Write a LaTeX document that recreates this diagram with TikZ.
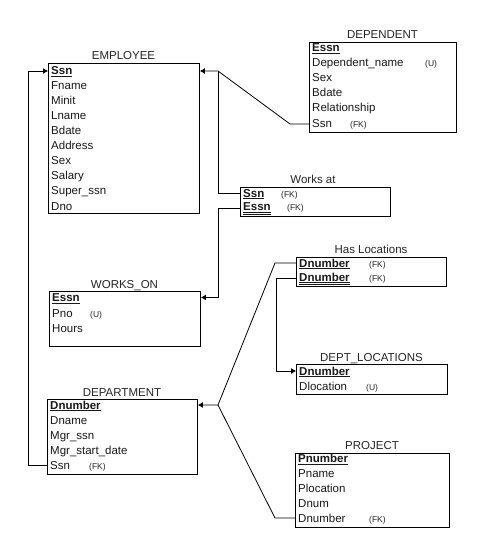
\documentclass[tikz,border=0pt]{standalone}
\usepackage{fontspec}
\setmainfont{Liberation Sans}
\usetikzlibrary{arrows.meta}
\newcommand{\pk}[1]{\underline{\textbf{#1}}}
\newcommand{\dpk}[1]{\underline{\underline{\textbf{#1}}}}
\begin{document}
\begin{tikzpicture}[x=1pt,y=-1pt,
  box/.style={draw=black, line width=0.9pt, anchor=north west, inner sep=0pt},
  row/.style={anchor=base west, inner sep=0pt, font=\fontsize{11.5}{12}\selectfont, text=black!90},
  ttl/.style={anchor=base, inner sep=0pt, font=\fontsize{11.5}{12}\selectfont, text=black!85},
  small/.style={anchor=base west, inner sep=0pt, font=\fontsize{8.5}{9}\selectfont, text=black!85},
  conn/.style={draw=black, line width=0.8pt},
  arr/.style={conn, -{Latex[length=5pt,width=6pt]}}]
\useasboundingbox (0,0) rectangle (485,553);
\fill[white] (0,0) rectangle (485,553);

% EMPLOYEE
\node[box, minimum width=151pt, minimum height=150pt] (emp) at (48,63) {};
\node[ttl] (empT) at (123.5,60) {EMPLOYEE};
\node[row] (eSsn) at (51,75) {\pk{Ssn}};
\node[row] (eF) at (51,90) {Fname};
\node[row] (eM) at (51,105) {Minit};
\node[row] (eL) at (51,120) {Lname};
\node[row] (eB) at (51,135) {Bdate};
\node[row] (eA) at (51,150) {Address};
\node[row] (eS) at (51,165) {Sex};
\node[row] (eSa) at (51,180) {Salary};
\node[row] (eSu) at (51,195) {Super\_ssn};
\node[row] (eD) at (51,210) {Dno};

% DEPENDENT
\node[box, minimum width=147pt, minimum height=90pt] (dep) at (309,42) {};
\node[ttl] (depT) at (382.5,39) {DEPENDENT};
\node[row] (dE) at (312,52) {\pk{Essn}};
\node[row] (dN) at (312,67) {Dependent\_name};
\node[small] (dNu) at (425,67) {(U)};
\node[row] (dS) at (312,82) {Sex};
\node[row] (dB) at (312,97) {Bdate};
\node[row] (dR) at (312,112) {Relationship};
\node[row] (dSsn) at (312,128) {Ssn};
\node[small] (dSf) at (350,128) {(FK)};

% Works at
\node[box, minimum width=150pt, minimum height=29pt] (wa) at (240,187) {};
\node[ttl] (waT) at (313,183) {Works at};
\node[row] (wSsn) at (243,197) {\pk{Ssn}};
\node[small] (wSf) at (281,197) {(FK)};
\node[row] (wE) at (243,211) {\dpk{Essn}};
\node[small] (wEf) at (287,211) {(FK)};

% WORKS_ON
\node[box, minimum width=151pt, minimum height=55pt] (wo) at (49,291) {};
\node[ttl] (woT) at (124.5,288) {WORKS\_ON};
\node[row] (oE) at (52,301.5) {\pk{Essn}};
\node[row] (oP) at (52,317) {Pno};
\node[small] (oPu) at (90,317) {(U)};
\node[row] (oH) at (52,332) {Hours};

% DEPARTMENT
\node[box, minimum width=150pt, minimum height=75pt] (dpt) at (47,399) {};
\node[ttl] (dptT) at (122,396) {DEPARTMENT};
\node[row] (pD) at (50,409) {\pk{Dnumber}};
\node[row] (pN) at (50,424) {Dname};
\node[row] (pM) at (50,439) {Mgr\_ssn};
\node[row] (pMs) at (50,454) {Mgr\_start\_date};
\node[row] (pSsn) at (50,469) {Ssn};
\node[small] (pSf) at (89,469) {(FK)};

% Has Locations
\node[box, minimum width=150pt, minimum height=29pt] (hl) at (296,257) {};
\node[ttl] (hlT) at (371,253) {Has Locations};
\node[row] (h1) at (299,267) {\pk{Dnumber}};
\node[small] (h1f) at (369,267) {(FK)};
\node[row] (h2) at (299,281) {\dpk{Dnumber}};
\node[small] (h2f) at (369,281) {(FK)};

% DEPT_LOCATIONS
\node[box, minimum width=151pt, minimum height=30pt] (dl) at (296,364) {};
\node[ttl] (dlT) at (371.5,361) {DEPT\_LOCATIONS};
\node[row] (lD) at (299,375) {\pk{Dnumber}};
\node[row] (lL) at (299,390) {Dlocation};
\node[small] (lLu) at (366,390) {(U)};

% PROJECT
\node[box, minimum width=154pt, minimum height=74pt] (prj) at (295,453) {};
\node[ttl] (prjT) at (372,449) {PROJECT};
\node[row] (rP) at (298,462.5) {\pk{Pnumber}};
\node[row] (rN) at (298,477) {Pname};
\node[row] (rL) at (298,492) {Plocation};
\node[row] (rD) at (298,507) {Dnum};
\node[row] (rDn) at (298,522) {Dnumber};
\node[small] (rDf) at (369,522) {(FK)};

% junctions
\coordinate (j1) at (218,71);
\coordinate (j2) at (218,405);
\coordinate (jl) at (28,71);

% connectors
\draw[arr] (dep.west |- 0,124) -- (290,124) -- (j1) -- (emp.east |- j1);
\draw[conn] (wa.west |- 0,193) -- (218,193) -- (j1);
\draw[arr] (wa.west |- 0,208) -- (218,208) -- (218,297.5) -- (wo.east |- 0,297.5);
\draw[arr] (hl.west |- 0,263) -- (275,263) -- (j2) -- (dpt.east |- j2);
\draw[conn] (prj.west |- 0,518) -- (275,518) -- (j2);
\draw[arr] (hl.west |- 0,278) -- (276,278) -- (276,371) -- (dl.west |- 0,371);
\draw[arr] (dpt.west |- 0,465) -- (28,465) -- (jl) -- (emp.west |- jl);
\end{tikzpicture}
\end{document}
